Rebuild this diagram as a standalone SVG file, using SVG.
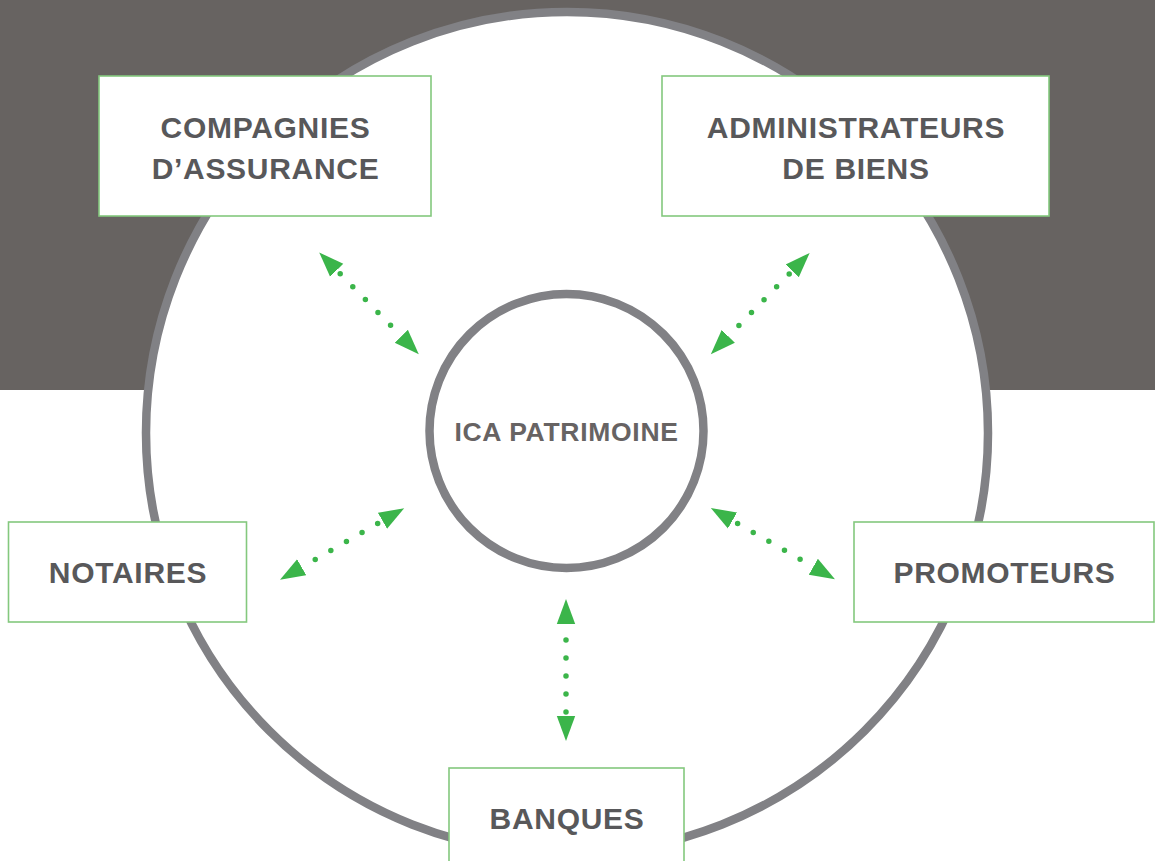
<svg xmlns="http://www.w3.org/2000/svg" width="1155" height="861" viewBox="0 0 1155 861">
  <style>
    .box { fill: #ffffff; stroke: #84c87e; stroke-width: 1.6; }
    .lbl { font-family: "Liberation Sans", Arial, sans-serif; font-weight: bold; font-size: 30px; fill: #58585a; text-anchor: middle; letter-spacing: 0.7px; }
    .center-lbl { font-family: "Liberation Sans", Arial, sans-serif; font-weight: bold; font-size: 26.5px; fill: #676363; text-anchor: middle; letter-spacing: 0.7px; }
    .ring { fill: #ffffff; stroke: #818185; stroke-width: 8.5; }
    .conn { fill: none; stroke: #3bb54a; stroke-width: 5.5; stroke-linecap: round; stroke-dasharray: 0 18; marker-start: url(#head); marker-end: url(#head); }
  </style>
  <defs>
    <marker id="head" viewBox="0 -10 26 20" markerWidth="26" markerHeight="20" refX="0" refY="0" orient="auto-start-reverse" markerUnits="userSpaceOnUse">
      <path d="M0,-9.2 L25,0 L0,9.2 Z" fill="#3bb54a"/>
    </marker>
  </defs>

  <rect x="0" y="0" width="1155" height="390" fill="#676361"/>
  <circle cx="567" cy="433" r="421" class="ring"/>

  <g id="connectors">
    <path class="conn" d="M336.7,270.3 L401.3,336.3" stroke-dashoffset="13"/>
    <path class="conn" d="M792.2,270.8 L728.3,336.3" stroke-dashoffset="13.7"/>
    <path class="conn" d="M301.7,567.2 L382.5,520.8" stroke-dashoffset="2.4"/>
    <path class="conn" d="M732.5,520.5 L813.3,566.8" stroke-dashoffset="12.1"/>
    <path class="conn" d="M566,624 L566,716" stroke-dashoffset="2"/>
  </g>

  <g id="ica-patrimoine">
    <circle cx="566.5" cy="431" r="137" class="ring"/>
    <text class="center-lbl" x="566.5" y="441">ICA PATRIMOINE</text>
  </g>

  <g id="compagnies-assurance">
    <rect class="box" x="99" y="76" width="332" height="140"/>
    <text class="lbl" x="265.5" y="137.5">COMPAGNIES</text>
    <text class="lbl" x="265.5" y="178.5">D’ASSURANCE</text>
  </g>

  <g id="administrateurs-biens">
    <rect class="box" x="662" y="76" width="387" height="140"/>
    <text class="lbl" x="856" y="137.5">ADMINISTRATEURS</text>
    <text class="lbl" x="856" y="178.5">DE BIENS</text>
  </g>

  <g id="notaires">
    <rect class="box" x="8.5" y="522" width="238" height="100"/>
    <text class="lbl" x="128" y="583">NOTAIRES</text>
  </g>

  <g id="promoteurs">
    <rect class="box" x="854" y="522" width="300" height="100"/>
    <text class="lbl" x="1004.5" y="583">PROMOTEURS</text>
  </g>

  <g id="banques">
    <rect class="box" x="449" y="768" width="235" height="110"/>
    <text class="lbl" x="567" y="829">BANQUES</text>
  </g>
</svg>
